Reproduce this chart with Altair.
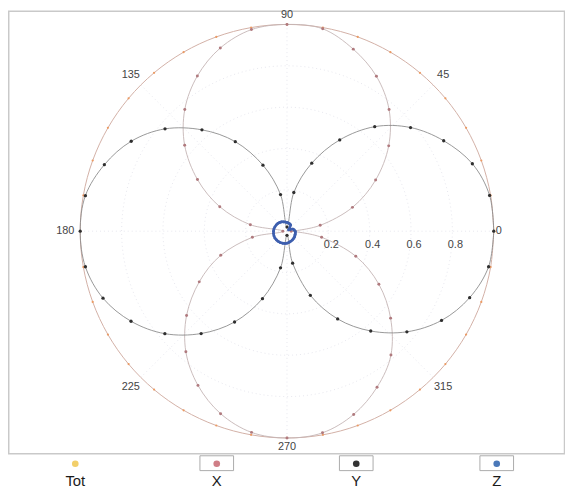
import altair as alt
import pandas as pd
import numpy as np

# ---------------- data ----------------
ANGLES = [0, 10, 20, 30, 40, 50, 60, 70, 80, 90, 100, 110, 120, 130, 140, 150, 160, 170,
          180, 190, 200, 210, 220, 230, 240, 250, 260, 270, 280, 290, 300, 310, 320, 330, 340, 350]

TOT = [1.00, 1.00, 1.00, 1.00, 1.00, 1.00, 1.00, 1.00, 1.00, 1.00, 1.00, 1.00,
       1.00, 1.00, 1.00, 1.00, 1.00, 1.00, 1.00, 1.00, 1.00, 1.00, 1.00, 1.00,
       1.00, 1.00, 1.00, 1.00, 1.00, 1.00, 1.00, 1.00, 1.00, 1.00, 1.00, 1.00]

X_VALS = [0.02, 0.163, 0.337, 0.495, 0.642, 0.768, 0.865, 0.937, 0.994, 1.0,
          0.99, 0.943, 0.867, 0.769, 0.646, 0.50, 0.346, 0.18, 0.02,
          0.17, 0.341, 0.49, 0.634, 0.761, 0.861, 0.939, 0.988, 1.0,
          0.99, 0.943, 0.871, 0.782, 0.654, 0.513, 0.354, 0.17]

Y_VALS = [1.0, 0.995, 0.954, 0.875, 0.78, 0.66, 0.51, 0.35, 0.19, 0.02,
          0.18, 0.34, 0.50, 0.64, 0.77, 0.87, 0.94, 0.99, 1.0,
          0.99, 0.947, 0.871, 0.771, 0.646, 0.507, 0.347, 0.18, 0.02,
          0.157, 0.33, 0.49, 0.63, 0.757, 0.863, 0.94, 0.99]

Z_VALS = [0.040, 0.035, 0.030, 0.015, 0.010, 0.020, 0.035, 0.038, 0.040, 0.042,
          0.045, 0.048, 0.052, 0.055, 0.058, 0.060, 0.062, 0.064, 0.065,
          0.066, 0.067, 0.067, 0.066, 0.065, 0.064, 0.062, 0.060, 0.058,
          0.055, 0.052, 0.050, 0.048, 0.046, 0.044, 0.042, 0.041]

SERIES = ["Tot", "X", "Y", "Z"]
ANGLE_TICKS = [0, 45, 90, 135, 180, 225, 270, 315]
RADIAL_TICKS = [0.2, 0.4, 0.6, 0.8]

# ---------------- styles / layout ----------------
POINT_COLORS = {"Tot": "#ec9a62", "X": "#b07a7e", "Y": "#2f2f2f", "Z": "#3d5fae"}
LINE_COLORS = {"Tot": "#d2b0a6", "X": "#c4b4b4", "Y": "#8c8c8c", "Z": "#4662b2"}
LEGEND_COLORS = {"Tot": "#f2cf6a", "X": "#cf7e86", "Y": "#333333", "Z": "#4a78b8"}

W, H = 563, 484            # plot area (page offset 8px)
CX, CY, R = 282, 223, 209  # centre & radius in plot pixels
XS = alt.Scale(domain=[-CX / R, (W - CX) / R], nice=False, zero=False)
YS = alt.Scale(domain=[-(H - CY) / R, CY / R], nice=False, zero=False)
FONT = "Liberation Sans"

# ---------------- tables ----------------
rows = []
for name, vals in zip(SERIES, [TOT, X_VALS, Y_VALS, Z_VALS]):
    for a, r in zip(ANGLES + [360], vals + [vals[0]]):
        rows.append({"series": name, "angle": a, "r": r})
df = pd.DataFrame(rows)

grid_rows = []
for gr in RADIAL_TICKS:
    for a in range(0, 361, 3):
        grid_rows.append({"g": gr, "angle": a, "r": gr})
grid_df = pd.DataFrame(grid_rows)

spoke_df = pd.DataFrame({"angle": ANGLE_TICKS})


def polar(ch):
    return ch.transform_calculate(
        x="datum.r * cos(datum.angle * PI / 180)",
        y="datum.r * sin(datum.angle * PI / 180)",
    )


X_ENC = alt.X("x:Q", scale=XS, axis=None)
Y_ENC = alt.Y("y:Q", scale=YS, axis=None)

layers = []

# frame
layers.append(
    alt.Chart(pd.DataFrame({"a": [0]})).mark_rect(
        fillOpacity=0, stroke="#c9c9c9", strokeWidth=1.5
    ).encode(x=alt.value(0.75), x2=alt.value(562.5), y=alt.value(0.75), y2=alt.value(448))
)

# grid circles
layers.append(
    polar(alt.Chart(grid_df)).mark_line(
        color="#e0e0ea", strokeWidth=0.8, strokeDash=[1, 3]
    ).encode(x=X_ENC, y=Y_ENC, detail="g:N", order="angle:Q")
)
# spokes
layers.append(
    alt.Chart(spoke_df).transform_calculate(
        x="0", y="0",
        x2="cos(datum.angle * PI / 180)",
        y2="sin(datum.angle * PI / 180)",
    ).mark_rule(color="#e0e0ea", strokeWidth=0.8, strokeDash=[1, 3]).encode(
        x=X_ENC, y=Y_ENC, x2="x2:Q", y2="y2:Q"
    )
)

# series lines and points
for name, width, size in [("Tot", 1.0, 5), ("X", 0.9, 9), ("Y", 0.9, 11), ("Z", 2.6, 8)]:
    base = polar(alt.Chart(df).transform_filter(alt.datum.series == name))
    layers.append(
        base.mark_line(color=LINE_COLORS[name], strokeWidth=width, interpolate="cardinal").encode(
            x=X_ENC, y=Y_ENC, order="angle:Q"
        )
    )
    layers.append(
        base.transform_filter(alt.datum.angle < 360).mark_circle(
            color=POINT_COLORS[name], size=size, opacity=1
        ).encode(x=X_ENC, y=Y_ENC)
    )

# angle labels
lab_df = pd.DataFrame({"angle": ANGLE_TICKS, "label": [str(a) for a in ANGLE_TICKS]})
diag = polar(
    alt.Chart(lab_df).transform_filter("datum.angle % 90 != 0").transform_calculate(r="1.068")
)
layers.append(diag.mark_text(font=FONT, fontSize=11, color="#444", baseline="middle").encode(
    x=X_ENC, y=Y_ENC, text="label:N"))
vert = polar(
    alt.Chart(lab_df).transform_filter("datum.angle == 90 || datum.angle == 270").transform_calculate(r="1.046")
)
layers.append(vert.mark_text(font=FONT, fontSize=11, color="#444", baseline="middle").encode(
    x=X_ENC, y=Y_ENC, text="label:N"))
right = polar(alt.Chart(lab_df).transform_filter("datum.angle == 0").transform_calculate(r="1.0"))
layers.append(right.mark_text(font=FONT, fontSize=11, color="#444", baseline="middle",
                              align="left", dx=2).encode(x=X_ENC, y=Y_ENC, text="label:N"))
left = polar(alt.Chart(lab_df).transform_filter("datum.angle == 180").transform_calculate(r="1.0"))
layers.append(left.mark_text(font=FONT, fontSize=11, color="#444", baseline="middle",
                             align="right", dx=-6).encode(x=X_ENC, y=Y_ENC, text="label:N"))

# radial labels
rad_df = pd.DataFrame({"r": RADIAL_TICKS, "label": [f"{v:.1f}" for v in RADIAL_TICKS]})
layers.append(
    alt.Chart(rad_df).transform_calculate(x="datum.r", y="0").mark_text(
        font=FONT, fontSize=11, color="#444", baseline="middle", dy=14, dx=3
    ).encode(x=X_ENC, y=Y_ENC, text="label:N")
)

# custom legend
LEG_X = {"Tot": 68, "X": 211, "Y": 352, "Z": 494}
one = pd.DataFrame({"a": [0]})
for name in SERIES:
    lx = LEG_X[name]
    if name != "Tot":
        layers.append(
            alt.Chart(one).mark_rect(fillOpacity=0, stroke="#ababab", strokeWidth=1).encode(
                x=alt.value(lx - 17), x2=alt.value(lx + 17), y=alt.value(450), y2=alt.value(465)
            )
        )
    layers.append(
        alt.Chart(one).mark_circle(color=LEGEND_COLORS[name], size=45, opacity=1).encode(
            x=alt.value(lx), y=alt.value(458)
        )
    )
    layers.append(
        alt.Chart(one).mark_text(font=FONT, fontSize=15, color="#1a1a1a", baseline="middle",
                                 text=name).encode(x=alt.value(lx), y=alt.value(476))
    )

chart = alt.layer(*layers).properties(
    width=W, height=H, autosize=alt.AutoSizeParams(type="none"), padding=0
).configure(background="white", view=alt.ViewConfig(stroke=None))

chart.save("out.html", embed_options={"renderer": "svg", "actions": False})
